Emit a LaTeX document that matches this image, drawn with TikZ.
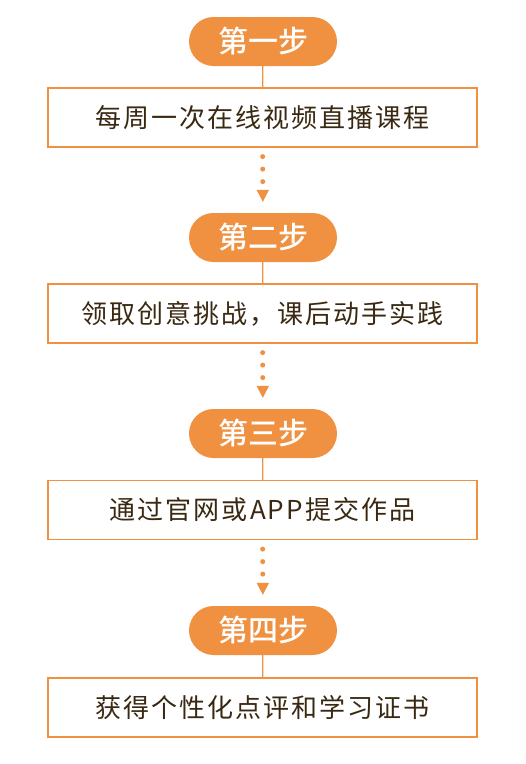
\documentclass[tikz,border=0pt]{standalone}
\usepackage{fontspec}
\setmainfont{Noto Sans CJK SC}
\newfontfamily\taskfont[LetterSpace=8]{Noto Sans CJK SC}
\newfontfamily\pillfont{Noto Sans CJK SC Medium}
\usetikzlibrary{arrows.meta}
\definecolor{stepOrange}{HTML}{EF9140}
\definecolor{stepText}{HTML}{3A2912}

\begin{document}
\begin{tikzpicture}[
			x=1pt, y=-1pt, % pixel units, y downwards
			pill/.style={rounded corners=24.5pt, fill=stepOrange, text=white, inner sep=0pt,
				minimum width=148pt, minimum height=49pt, text height=22.8pt, text depth=0pt,
				font=\pillfont\fontsize{30pt}{30pt}\selectfont},
			task/.style={draw=stepOrange, line width=1.2pt, fill=white, text=stepText, inner sep=0pt,
				minimum width=429pt, minimum height=59pt, text height=19.8pt, text depth=0pt,
				font=\taskfont\fontsize{26pt}{26pt}\selectfont},
			link/.style={draw=stepOrange, line width=1.2pt},
			dotlink/.style={draw=stepOrange, line width=5pt, line cap=round,
				dash pattern=on 0pt off 12.5pt, shorten <=9pt, shorten >=11pt,
				-{Triangle[width=12.5pt, length=12pt, line width=0pt]}}]
		\useasboundingbox (0,0) rectangle (526,764);
		\path 	(263,41.5) 	node 	(s1) [pill] {第一步}
		        (262.5,117.5) node 	(t1) [task] {每周一次在线视频直播课程}
		        (263,237.5) node 	(s2) [pill] {第二步}
		        (262.5,313.5) node 	(t2) [task] {领取创意挑战，课后动手实践}
		        (263,433.5) node 	(s3) [pill] {第三步}
		        (262.5,510) node 	(t3) [task] {通过官网或APP提交作品}
		        (263,630.5) node 	(s4) [pill] {第四步}
		        (262.5,707.5) node 	(t4) [task] {获得个性化点评和学习证书};
		\draw [link] (s1) -- (t1) (s2) -- (t2) (s3) -- (t3) (s4) -- (t4);
		\draw [dotlink] (t1) -- (s2);
		\draw [dotlink] (t2) -- (s3);
		\draw [dotlink] (t3) -- (s4);
	\end{tikzpicture}
\end{document}
